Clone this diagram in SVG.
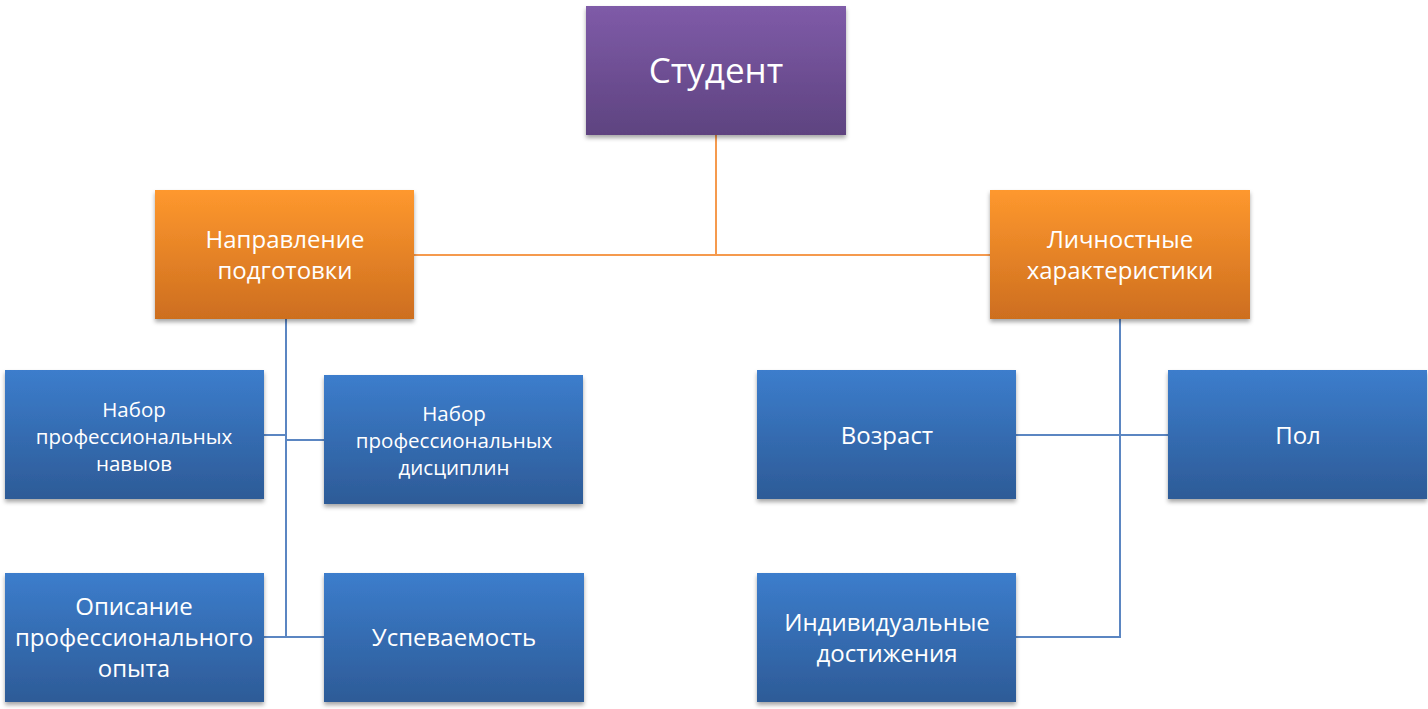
<svg xmlns="http://www.w3.org/2000/svg" width="1428" height="709" viewBox="0 0 1428 709">
<defs>
<linearGradient id="gp" x1="0" y1="0" x2="0" y2="1"><stop offset="0" stop-color="#7F5BA8"/><stop offset="1" stop-color="#5E4380"/></linearGradient>
<linearGradient id="go" x1="0" y1="0" x2="0" y2="1"><stop offset="0" stop-color="#FE982E"/><stop offset="1" stop-color="#CD6E1F"/></linearGradient>
<linearGradient id="gb" x1="0" y1="0" x2="0" y2="1"><stop offset="0" stop-color="#3C7DCC"/><stop offset="1" stop-color="#2D5B97"/></linearGradient>
<filter id="sh" x="-5%" y="-5%" width="110%" height="120%"><feDropShadow dx="0" dy="3" stdDeviation="2" flood-color="#000" flood-opacity="0.35"/></filter>
</defs>
<style>
text{font-family:"Open Sans","Lato",sans-serif;fill:#fff;text-anchor:middle}
.p{fill:url(#gp);filter:url(#sh)}
.o{fill:url(#go);filter:url(#sh)}
.b{fill:url(#gb);filter:url(#sh)}
.lo{stroke:#F59A4E;stroke-width:2;fill:none}
.lb{stroke:#5B86C2;stroke-width:2;fill:none}
.t36{font-size:35px}
.t22{font-size:24px}
.t18{font-size:20.5px}
</style>
<rect width="1428" height="709" fill="#fff"/>
<g id="connectors">
<path class="lo" d="M716 135V255M414 255H990"/>
<path class="lb" d="M286 319V637M264 435H286M286 440H324M264 637H324"/>
<path class="lb" d="M1120 319V637H1016M1016 435H1168"/>
</g>
<g id="student"><rect class="p" x="586" y="6" width="260" height="129"/><text class="t36" x="716" y="83">Студент</text></g>
<g id="napravlenie"><rect class="o" x="155" y="190" width="259" height="129"/><text class="t22" x="285" y="248">Направление</text><text class="t22" x="285" y="279">подготовки</text></g>
<g id="lichnostnye"><rect class="o" x="990" y="190" width="260" height="129"/><text class="t22" x="1120" y="248">Личностные</text><text class="t22" x="1120" y="279">характеристики</text></g>
<g id="navyki"><rect class="b" x="5" y="370" width="259" height="129"/><text class="t18" x="134" y="417">Набор</text><text class="t18" x="134" y="444">профессиональных</text><text class="t18" x="134" y="471">навыов</text></g>
<g id="discipliny"><rect class="b" x="324" y="375" width="259" height="129"/><text class="t18" x="454" y="421">Набор</text><text class="t18" x="454" y="448">профессиональных</text><text class="t18" x="454" y="475">дисциплин</text></g>
<g id="opyt"><rect class="b" x="5" y="573" width="259" height="129"/><text class="t22" x="134" y="615">Описание</text><text class="t22" x="134" y="646">профессионального</text><text class="t22" x="134" y="677">опыта</text></g>
<g id="uspevaemost"><rect class="b" x="324" y="573" width="260" height="129"/><text class="t22" x="454" y="646">Успеваемость</text></g>
<g id="vozrast"><rect class="b" x="757" y="370" width="259" height="129"/><text class="t22" x="887" y="444">Возраст</text></g>
<g id="pol"><rect class="b" x="1168" y="370" width="259" height="129"/><text class="t22" x="1298" y="444">Пол</text></g>
<g id="dostizheniya"><rect class="b" x="757" y="573" width="259" height="129"/><text class="t22" x="887" y="631">Индивидуальные</text><text class="t22" x="887" y="662">достижения</text></g>
</svg>
